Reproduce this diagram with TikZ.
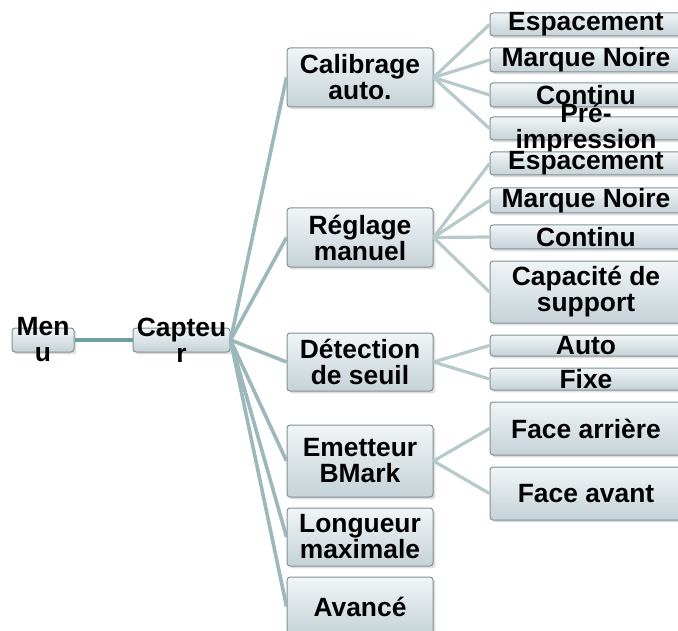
\documentclass[tikz,border=0pt]{standalone}
\usepackage{fontspec}
\setmainfont{Liberation Sans}
\usetikzlibrary{shadows}
\definecolor{boxtop}{HTML}{F1F5F7}
\definecolor{boxbot}{HTML}{C5D2D7}
\definecolor{boxline}{HTML}{7F9196}
\definecolor{linkA}{HTML}{6C9FA4}
\definecolor{linkB}{HTML}{9DB8BB}
\definecolor{linkC}{HTML}{B6CACB}
\newcommand{\menufont}{\fontsize{13.2}{13}\selectfont\bfseries}

\begin{document}
\begin{tikzpicture}[x=0.5pt,y=-0.5pt,
wh/.style 2 args={minimum width=#1*0.5pt,minimum height=#2*0.5pt},
box/.style={draw=boxline,line width=0.5pt,rounded corners=1.5pt,inner sep=0pt,
  top color=boxtop,bottom color=boxbot,
  drop shadow={opacity=0.25,shadow xshift=1.2pt,shadow yshift=-1.2pt}},
txt/.style={align=center,inner sep=0pt,text=black,font=\menufont},
root/.style={line width=1.7pt,draw=linkA},
lvl/.style={line width=1.8pt,draw=linkB},
leaf/.style={line width=1.6pt,draw=linkC}]
\useasboundingbox (0,0) rectangle (678,630);

% main column
\node[box,wh={62}{24},label={[txt,name=t0]center:Men\\u}] (menu) at (43,340) {};
\node[box,wh={97}{24},label={[txt,name=t1]center:Capteu\\r}] (capteur) at (181.5,340) {};
\node[box,wh={146}{59},label={[txt,name=t2]center:Calibrage\\auto.}] (calib) at (360,77.5) {};
\node[box,wh={146}{59},label={[txt,name=t3]center:Réglage\\manuel}] (reglage) at (360,237.5) {};
\node[box,wh={146}{58},label={[txt,name=t4]center:Détection\\de seuil}] (detect) at (360,362) {};
\node[box,wh={146}{72},label={[txt,name=t5]center:Emetteur\\BMark}] (bmark) at (360,461) {};
\node[box,wh={146}{58},label={[txt,name=t6]center:Longueur\\maximale}] (longueur) at (360,537) {};
\node[box,wh={146}{59},label={[txt,name=t7]center:Avancé}] (avance) at (360,606.5) {};
% leaves
\node[box,wh={192}{23},label={[txt,name=a1]center:Espacement}] (esp1) at (586,24.5) {};
\node[box,wh={192}{24},label={[txt,name=a2]center:Marque Noire}] (noire1) at (586,60) {};
\node[box,wh={192}{24},label={[txt,name=a3]center:Continu}] (cont1) at (586,95) {};
\node[box,wh={192}{23},label={[txt,name=a4]center:Pré-\\impression}] (preimp) at (586,128.5) {};
\node[box,wh={192}{23},label={[txt,name=b1]center:Espacement}] (esp2) at (586,163.5) {};
\node[box,wh={192}{25},label={[txt,name=b2]center:Marque Noire}] (noire2) at (586,200.5) {};
\node[box,wh={192}{24},label={[txt,name=b3]center:Continu}] (cont2) at (586,237) {};
\node[box,wh={192}{62},label={[txt,name=b4]center:Capacité de\\support}] (capac) at (586,292) {};
\node[box,wh={192}{21},label={[txt,name=c1]center:Auto}] (auto) at (586,345.5) {};
\node[box,wh={192}{22},label={[txt,name=c2]center:Fixe}] (fixe) at (586,379) {};
\node[box,wh={192}{53},label={[txt,name=d1]center:Face arrière}] (arriere) at (586,428.5) {};
\node[box,wh={192}{53},label={[txt,name=d2]center:Face avant}] (avant) at (586,493.5) {};

\draw[root] (menu.east) -- (capteur.west);
\foreach \n in {calib,reglage,detect,bmark,longueur,avance}
  \draw[lvl] (capteur.east) -- (\n.west);
\foreach \n in {esp1,noire1,cont1,preimp} \draw[leaf] (calib.east) -- (\n.west);
\foreach \n in {esp2,noire2,cont2,capac} \draw[leaf] (reglage.east) -- (\n.west);
\foreach \n in {auto,fixe} \draw[leaf] (detect.east) -- (\n.west);
\foreach \n in {arriere,avant} \draw[leaf] (bmark.east) -- (\n.west);
\end{tikzpicture}
\end{document}
